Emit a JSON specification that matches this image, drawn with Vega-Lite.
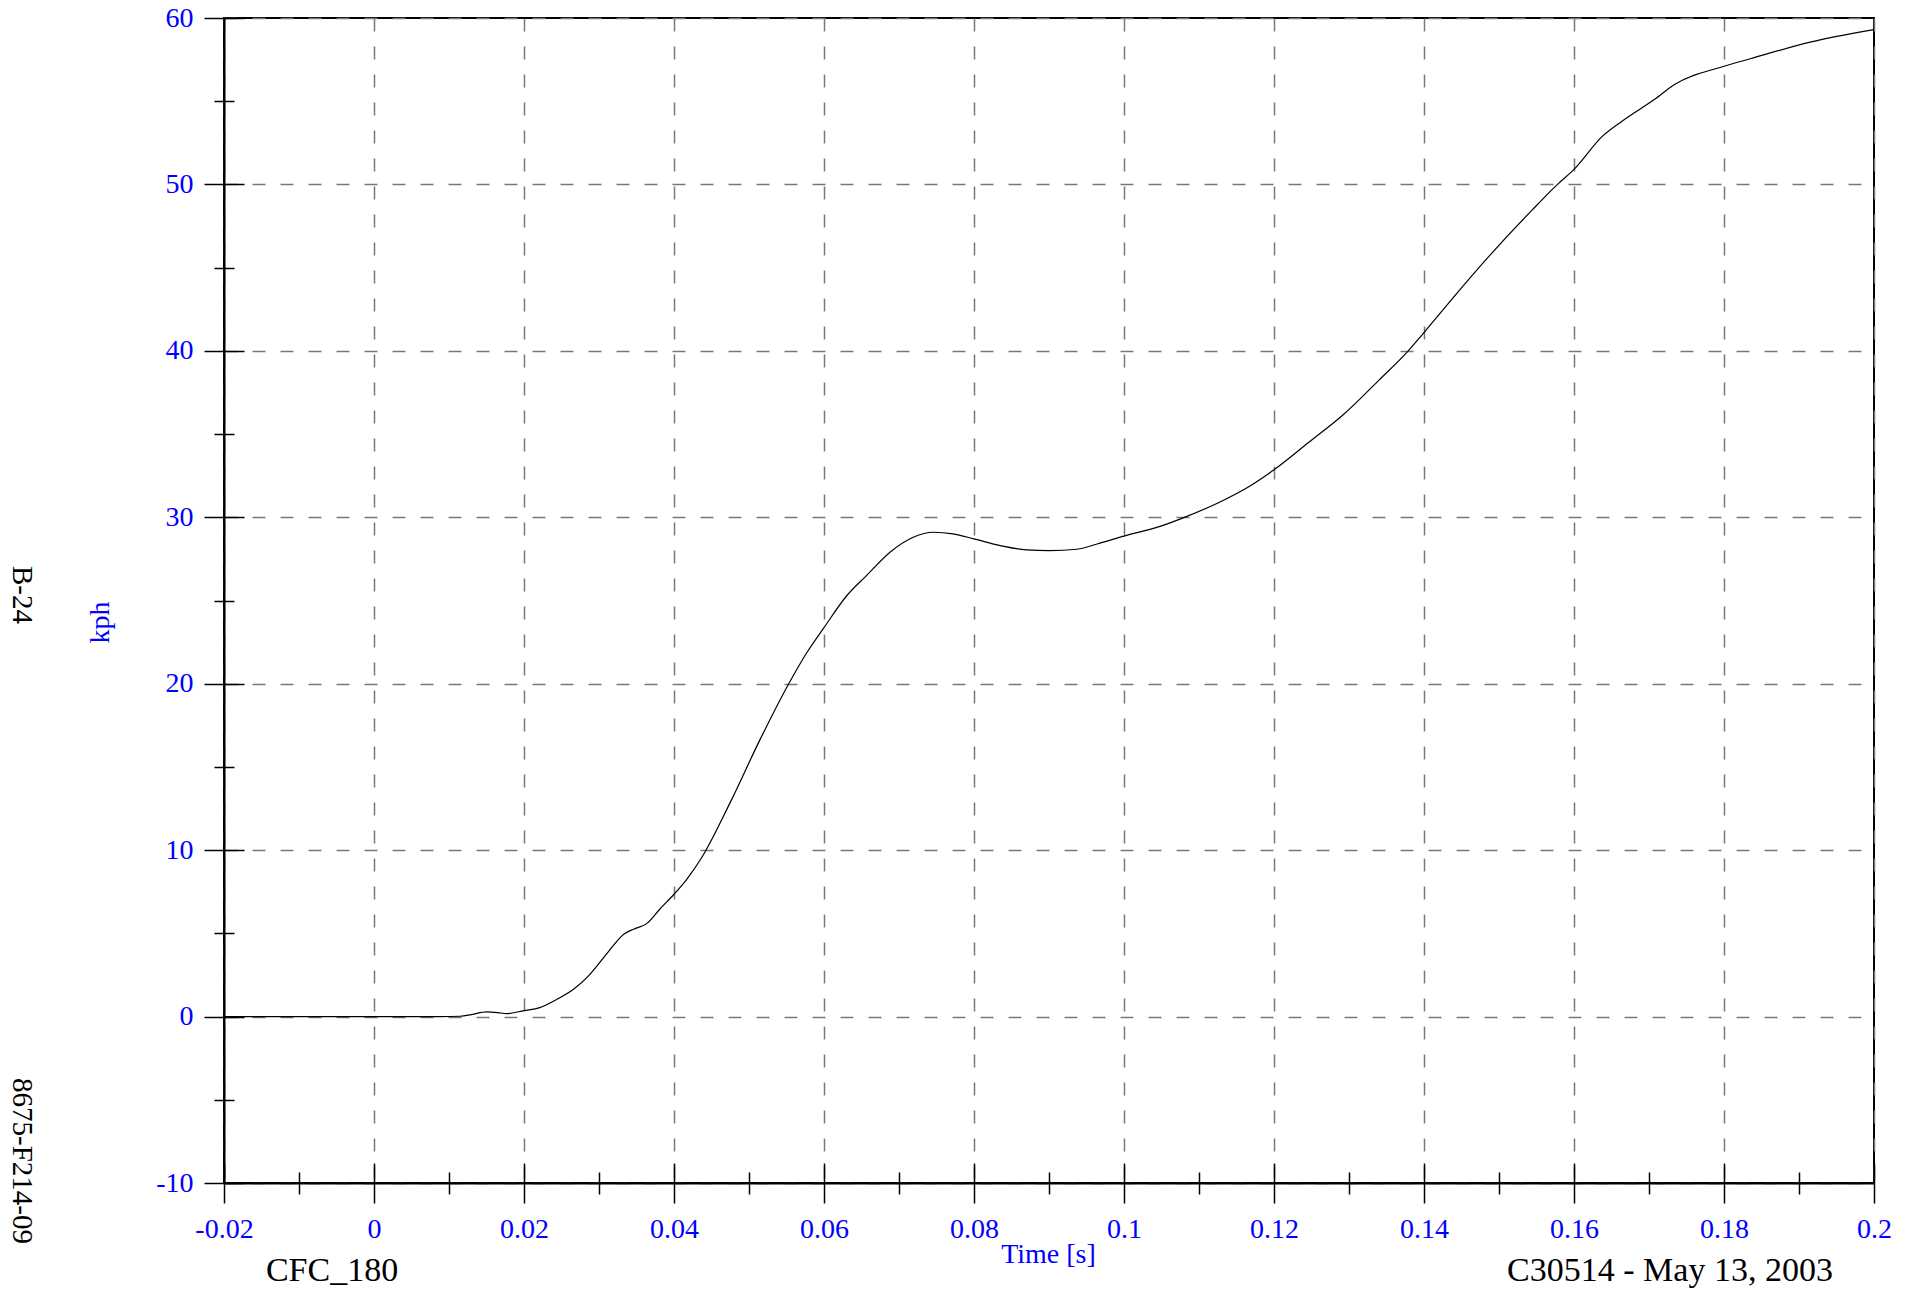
{
  "$schema": "https://vega.github.io/schema/vega-lite/v6.json",
  "width": 1650,
  "height": 1165,
  "autosize": {"type": "none"},
  "padding": {"left": 224, "top": 18, "right": 42, "bottom": 107},
  "background": "white",
  "config": {"view": {"stroke": "black", "strokeWidth": 2}, "font": "Liberation Serif"},
  "datasets": {
    "speed": [
      {"t": -0.02, "v": 0}, {"t": -0.01, "v": 0}, {"t": 0, "v": 0}, {"t": 0.005, "v": 0},
      {"t": 0.0088, "v": 0}, {"t": 0.0115, "v": 0.02}, {"t": 0.013, "v": 0.12}, {"t": 0.015, "v": 0.28},
      {"t": 0.0165, "v": 0.24}, {"t": 0.0177, "v": 0.18}, {"t": 0.02, "v": 0.36}, {"t": 0.0221, "v": 0.54},
      {"t": 0.0244, "v": 1.04}, {"t": 0.0266, "v": 1.64}, {"t": 0.0288, "v": 2.54}, {"t": 0.0311, "v": 3.81},
      {"t": 0.0333, "v": 4.95}, {"t": 0.0346, "v": 5.25}, {"t": 0.0364, "v": 5.6}, {"t": 0.0381, "v": 6.45},
      {"t": 0.04, "v": 7.35}, {"t": 0.0417, "v": 8.25}, {"t": 0.0437, "v": 9.56}, {"t": 0.0475, "v": 12.87},
      {"t": 0.0515, "v": 16.67}, {"t": 0.0553, "v": 20.0}, {"t": 0.0577, "v": 21.86}, {"t": 0.06, "v": 23.37},
      {"t": 0.063, "v": 25.27}, {"t": 0.0657, "v": 26.51}, {"t": 0.0688, "v": 27.9}, {"t": 0.0719, "v": 28.8},
      {"t": 0.0746, "v": 29.1}, {"t": 0.0772, "v": 29.0}, {"t": 0.08, "v": 28.7}, {"t": 0.0835, "v": 28.3},
      {"t": 0.087, "v": 28.04}, {"t": 0.0901, "v": 28.0}, {"t": 0.0937, "v": 28.08}, {"t": 0.0968, "v": 28.45},
      {"t": 0.1, "v": 28.87}, {"t": 0.1048, "v": 29.45}, {"t": 0.1078, "v": 29.95}, {"t": 0.1128, "v": 30.92},
      {"t": 0.1168, "v": 31.88}, {"t": 0.12, "v": 32.85}, {"t": 0.1246, "v": 34.49}, {"t": 0.1293, "v": 36.19},
      {"t": 0.1339, "v": 38.2}, {"t": 0.1379, "v": 40.0}, {"t": 0.14, "v": 41.1}, {"t": 0.1439, "v": 43.2},
      {"t": 0.1485, "v": 45.6}, {"t": 0.1545, "v": 48.5}, {"t": 0.1578, "v": 50.0}, {"t": 0.16, "v": 50.9},
      {"t": 0.1638, "v": 52.9}, {"t": 0.1664, "v": 53.8}, {"t": 0.1707, "v": 55.1}, {"t": 0.1734, "v": 56.0},
      {"t": 0.18, "v": 57.1}, {"t": 0.1835, "v": 57.55}, {"t": 0.1915, "v": 58.55}, {"t": 0.2, "v": 59.3}
    ]
  },
  "resolve": {"axis": {"x": "independent", "y": "independent"}},
  "layer": [
    {
      "data": {"name": "speed"},
      "mark": {"type": "line", "color": "black", "strokeWidth": 1.2, "interpolate": "monotone"},
      "encoding": {
        "x": {
          "field": "t", "type": "quantitative",
          "scale": {"domain": [-0.02, 0.2], "nice": false, "zero": false},
          "axis": {
            "orient": "bottom",
            "values": [-0.02, 0, 0.02, 0.04, 0.06, 0.08, 0.1, 0.12, 0.14, 0.16, 0.18, 0.2],
            "labelExpr": "'' + datum.value",
            "labelFlush": false, "labelOverlap": false,
            "labelFont": "Liberation Serif", "labelFontSize": 28, "labelColor": "#0000ff", "labelPadding": 12,
            "tickSize": 20, "tickColor": "black", "tickWidth": 1.5,
            "domainColor": "black", "domainWidth": 2,
            "grid": true, "gridColor": "#777777", "gridDash": [13, 15], "gridWidth": 1.5,
            "title": "Time [s]", "titleFont": "Liberation Serif", "titleFontSize": 28, "titleFontWeight": "normal",
            "titleColor": "#0000ff", "titleX": 824, "titleY": 79, "titleAlign": "center", "titleBaseline": "alphabetic"
          }
        },
        "y": {
          "field": "v", "type": "quantitative",
          "scale": {"domain": [-10, 60], "nice": false, "zero": false},
          "axis": {
            "orient": "left",
            "values": [-10, 0, 10, 20, 30, 40, 50, 60],
            "labelExpr": "'' + datum.value",
            "labelFlush": false, "labelOverlap": false,
            "labelFont": "Liberation Serif", "labelFontSize": 28, "labelColor": "#0000ff", "labelPadding": 11,
            "tickSize": 20, "tickColor": "black", "tickWidth": 1.5,
            "domainColor": "black", "domainWidth": 2,
            "grid": true, "gridColor": "#777777", "gridDash": [13, 15], "gridWidth": 1.5,
            "title": "kph", "titleFont": "Liberation Serif", "titleFontSize": 28, "titleFontWeight": "normal",
            "titleColor": "#0000ff", "titleAngle": -90, "titleX": -116, "titleY": 604, "titleAlign": "center", "titleBaseline": "alphabetic"
          }
        }
      }
    },
    {
      "data": {"name": "speed"},
      "mark": {"type": "point", "opacity": 0},
      "encoding": {
        "x": {
          "field": "t", "type": "quantitative",
          "axis": {"orient": "bottom", "values": [-0.02, 0, 0.02, 0.04, 0.06, 0.08, 0.1, 0.12, 0.14, 0.16, 0.18, 0.2],
            "labels": false, "domain": false, "grid": false, "title": null, "tickSize": -20, "tickColor": "black", "tickWidth": 1.5}
        },
        "y": {
          "field": "v", "type": "quantitative",
          "axis": {"orient": "left", "values": [-10, 0, 10, 20, 30, 40, 50, 60],
            "labels": false, "domain": false, "grid": false, "title": null, "tickSize": -20, "tickColor": "black", "tickWidth": 1.5}
        }
      }
    },
    {
      "data": {"name": "speed"},
      "mark": {"type": "point", "opacity": 0},
      "encoding": {
        "x": {
          "field": "t", "type": "quantitative",
          "axis": {"orient": "bottom", "values": [-0.01, 0.01, 0.03, 0.05, 0.07, 0.09, 0.11, 0.13, 0.15, 0.17, 0.19],
            "labels": false, "domain": false, "grid": false, "title": null, "tickSize": 11, "tickColor": "black", "tickWidth": 1.5}
        },
        "y": {
          "field": "v", "type": "quantitative",
          "axis": {"orient": "left", "values": [-5, 5, 15, 25, 35, 45, 55],
            "labels": false, "domain": false, "grid": false, "title": null, "tickSize": 10, "tickColor": "black", "tickWidth": 1.5}
        }
      }
    },
    {
      "data": {"name": "speed"},
      "mark": {"type": "point", "opacity": 0},
      "encoding": {
        "x": {
          "field": "t", "type": "quantitative",
          "axis": {"orient": "bottom", "values": [-0.01, 0.01, 0.03, 0.05, 0.07, 0.09, 0.11, 0.13, 0.15, 0.17, 0.19],
            "labels": false, "domain": false, "grid": false, "title": null, "tickSize": -11, "tickColor": "black", "tickWidth": 1.5}
        },
        "y": {
          "field": "v", "type": "quantitative",
          "axis": {"orient": "left", "values": [-5, 5, 15, 25, 35, 45, 55],
            "labels": false, "domain": false, "grid": false, "title": null, "tickSize": -10, "tickColor": "black", "tickWidth": 1.5}
        }
      }
    },
    {
      "data": {"values": [{"label": "CFC_180"}]},
      "mark": {"type": "text", "font": "Liberation Serif", "fontSize": 34, "color": "black", "align": "center", "baseline": "alphabetic"},
      "encoding": {
        "text": {"field": "label"},
        "x": {"datum": -0.0056, "type": "quantitative", "axis": null},
        "y": {"datum": -15.89, "type": "quantitative", "axis": null}
      }
    },
    {
      "data": {"values": [{"label": "C30514 - May 13, 2003"}]},
      "mark": {"type": "text", "font": "Liberation Serif", "fontSize": 34, "color": "black", "align": "center", "baseline": "alphabetic"},
      "encoding": {
        "text": {"field": "label"},
        "x": {"datum": 0.1728, "type": "quantitative", "axis": null},
        "y": {"datum": -15.89, "type": "quantitative", "axis": null}
      }
    },
    {
      "data": {"values": [{"label": "B-24"}]},
      "mark": {"type": "text", "font": "Liberation Serif", "fontSize": 29, "color": "black", "align": "center", "baseline": "middle", "angle": 90},
      "encoding": {
        "text": {"field": "label"},
        "x": {"datum": -0.0469, "type": "quantitative", "axis": null},
        "y": {"datum": 25.33, "type": "quantitative", "axis": null}
      }
    },
    {
      "data": {"values": [{"label": "8675-F214-09"}]},
      "mark": {"type": "text", "font": "Liberation Serif", "fontSize": 29, "color": "black", "align": "center", "baseline": "middle", "angle": 90},
      "encoding": {
        "text": {"field": "label"},
        "x": {"datum": -0.0469, "type": "quantitative", "axis": null},
        "y": {"datum": -8.68, "type": "quantitative", "axis": null}
      }
    }
  ]
}
